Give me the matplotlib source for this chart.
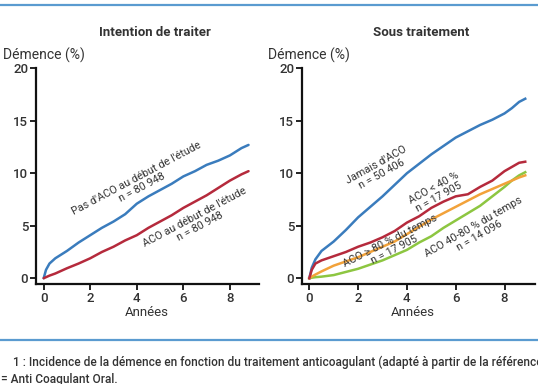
import matplotlib
matplotlib.use("Agg")
import matplotlib.pyplot as plt
from matplotlib.lines import Line2D

plt.rcParams['font.family'] = ['Roboto', 'DejaVu Sans']

# ---------------- data ----------------
panel_titles = ["Intention de traiter", "Sous traitement"]
y_label = "Démence (%)"
x_label = "Années"
x_ticks = [0, 2, 4, 6, 8]
y_ticks = [0, 5, 10, 15, 20]

years_left = [0, 0.1, 0.25, 0.5, 1, 1.5, 2, 2.5, 3, 3.5, 4, 4.5, 5, 5.5, 6, 6.5, 7, 7.5, 8, 8.5, 8.8]
pas_aco_debut = [0, 0.8, 1.4, 1.9, 2.6, 3.4, 4.1, 4.8, 5.4, 6.1, 7.1, 7.8, 8.4, 9.0, 9.7, 10.2, 10.8, 11.2, 11.7, 12.4, 12.7]
aco_debut = [0, 0.1, 0.25, 0.45, 0.95, 1.4, 1.9, 2.5, 3.0, 3.6, 4.1, 4.8, 5.4, 6.0, 6.7, 7.3, 7.9, 8.6, 9.3, 9.9, 10.2]

years_right = [0, 0.1, 0.25, 0.5, 1, 1.5, 2, 2.5, 3, 3.5, 4, 4.5, 5, 5.5, 6, 6.5, 7, 7.5, 8, 8.3, 8.6, 8.85]
jamais_aco = [0, 1.0, 1.8, 2.6, 3.5, 4.6, 5.8, 6.8, 7.8, 8.9, 10.0, 10.9, 11.8, 12.6, 13.4, 14.0, 14.6, 15.1, 15.7, 16.2, 16.8, 17.1]
aco_moins_40 = [0, 0.8, 1.4, 1.7, 2.1, 2.5, 3.0, 3.4, 3.9, 4.5, 5.3, 5.9, 6.7, 7.3, 7.8, 8.0, 8.7, 9.3, 10.2, 10.6, 11.0, 11.1]
aco_plus_80 = [0, 0.15, 0.35, 0.65, 1.2, 1.6, 2.0, 2.5, 3.0, 3.5, 4.2, 4.9, 5.6, 6.2, 6.8, 7.4, 8.0, 8.5, 9.0, 9.3, 9.6, 9.8]
aco_40_80 = [0, 0.05, 0.1, 0.15, 0.3, 0.6, 0.9, 1.3, 1.7, 2.2, 2.7, 3.4, 4.0, 4.8, 5.5, 6.2, 6.9, 7.8, 8.7, 9.3, 9.8, 10.1]

labels_left = ["Pas d'ACO au début de l'étude\nn = 80 948", "ACO au début de l'étude\nn = 80 948"]
labels_right = ["Jamais d'ACO\nn = 50 406", "ACO < 40 %\nn = 17 905",
                "ACO ≥ 80 % du temps\nn = 17 905", "ACO 40-80 % du temps\nn = 14 096"]

caption_1 = "1 : Incidence de la démence en fonction du traitement anticoagulant (adapté à partir de la référence"
caption_2 = "= Anti Coagulant Oral."

# ---------------- style ----------------
BLUE = '#3a7cbd'
RED = '#b52a3c'
ORANGE = '#f2a23a'
GREEN = '#8dc641'
TXT = '#333333'
FRAME = '#5a9bd0'

W, H = 538, 384
fig = plt.figure(figsize=(W / 100, H / 100), dpi=100)
fig.patch.set_facecolor('white')

def fx(px):
    return px / W

def fy(py):
    return 1 - py / H

axL = fig.add_axes([fx(36), fy(284), fx(259) - fx(36), fy(68.3) - fy(284)])
axR = fig.add_axes([fx(302), fy(284), fx(535) - fx(302), fy(68.3) - fy(284)])

for ax in (axL, axR):
    ax.set_xlim(-0.33, 9.25)
    ax.set_ylim(-0.55, 20)
    for s in ('top', 'right'):
        ax.spines[s].set_visible(False)
    for s in ('left', 'bottom'):
        ax.spines[s].set_linewidth(1.6)
        ax.spines[s].set_color('#111111')
    ax.set_xticks(x_ticks)
    ax.set_yticks(y_ticks)
    ax.tick_params(axis='both', length=4, width=1.3, color='#111111',
                   labelsize=9.5, labelcolor=TXT, pad=1.5)
    for lab in ax.get_xticklabels() + ax.get_yticklabels():
        lab.set_fontweight('medium')
    ax.set_facecolor('none')

axR.set_xlim(-0.3, 9.25)

lw = 1.8
axL.plot(years_left, pas_aco_debut, color=BLUE, lw=lw, solid_capstyle='round')
axL.plot(years_left, aco_debut, color=RED, lw=lw, solid_capstyle='round')

axR.plot(years_right, jamais_aco, color=BLUE, lw=lw)
axR.plot(years_right, aco_40_80, color=GREEN, lw=lw)
axR.plot(years_right, aco_plus_80, color=ORANGE, lw=lw)
axR.plot(years_right, aco_moins_40, color=RED, lw=lw)

tkw = dict(ha='center', va='center', rotation_mode='anchor', fontsize=7.8,
           color=TXT, linespacing=1.05, multialignment='center')
axL.text(4.1, 9.1, labels_left[0], rotation=28, **tkw)
axL.text(6.6, 5.4, labels_left[1], rotation=28, **tkw)
axR.text(2.85, 10.4, labels_right[0], rotation=29, **tkw)
axR.text(5.2, 8.2, labels_right[1], rotation=29, **tkw)
axR.text(3.4, 3.15, labels_right[2], rotation=27, **tkw)
axR.text(6.85, 4.5, labels_right[3], rotation=30, **tkw)

# titles and axis labels
fig.text(fx(155), fy(33), panel_titles[0], ha='center', va='center',
         fontsize=9.5, fontweight='bold', color=TXT)
fig.text(fx(421), fy(33), panel_titles[1], ha='center', va='center',
         fontsize=9.5, fontweight='bold', color=TXT)
fig.text(fx(3), fy(55), y_label, ha='left', va='center', fontsize=10, color=TXT)
fig.text(fx(268), fy(55), y_label, ha='left', va='center', fontsize=10, color=TXT)
fig.text(fx(147), fy(312), x_label, ha='center', va='center', fontsize=9.5, color=TXT)
fig.text(fx(413), fy(312), x_label, ha='center', va='center', fontsize=9.5, color=TXT)

# frame lines
fig.add_artist(Line2D([0, 1], [fy(5), fy(5)], color=FRAME, lw=1.6, transform=fig.transFigure))
fig.add_artist(Line2D([0, 1], [fy(340), fy(340)], color=FRAME, lw=1.6, transform=fig.transFigure))

fig.text(fx(13), fy(362), caption_1, ha='left', va='center', fontsize=8.6,
         fontweight='medium', color=TXT)
fig.text(fx(1), fy(379), caption_2, ha='left', va='center', fontsize=8.6,
         fontweight='medium', color=TXT)

fig.savefig('out.png', dpi=100, facecolor='white')
